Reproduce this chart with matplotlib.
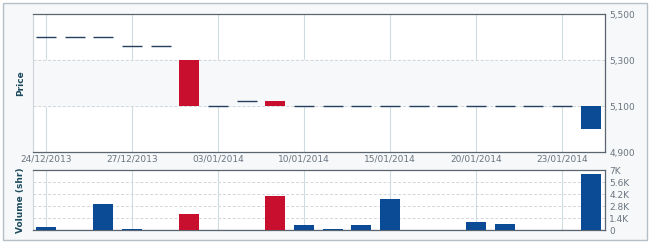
import numpy as np
import matplotlib
matplotlib.use('Agg')
import matplotlib.pyplot as plt
from matplotlib.patches import Rectangle

# candles (open == close -> flat dash)
opens = [5400, 5400, 5400, 5360, 5360, 5300, 5100, 5120, 5120, 5100,
         5100, 5100, 5100, 5100, 5100, 5100, 5100, 5100, 5100, 5000]
closes = [5400, 5400, 5400, 5360, 5360, 5100, 5100, 5120, 5100, 5100,
          5100, 5100, 5100, 5100, 5100, 5100, 5100, 5100, 5100, 5100]
volumes = [400, 0, 3000, 150, 0, 1900, 0, 0, 4000, 600,
           150, 600, 3600, 0, 0, 900, 700, 0, 0, 6500]
tick_idx = [0, 3, 6, 9, 12, 15, 18]
tick_labels = ['24/12/2013', '27/12/2013', '03/01/2014', '10/01/2014',
               '15/01/2014', '20/01/2014', '23/01/2014']
price_ticks = [4900, 5100, 5300, 5500]
price_labels = ['4,900', '5,100', '5,300', '5,500']
vol_ticks = [0, 1400, 2800, 4200, 5600, 7000]
vol_labels = ['0', '1.4K', '2.8K', '4.2K', '5.6K', '7K']

blue = '#0b4a94'
red = '#c8102e'
dash = '#23405e'
grid_c = '#cfdbe2'
txt = '#6a7480'

W, H = 650, 247
fig = plt.figure(figsize=(6.5, 2.47), dpi=100)
fig.patch.set_facecolor('white')
fig.patches.append(Rectangle((3/W, 1 - 240/H), 644/W, 237/H, transform=fig.transFigure,
                             facecolor='#f6f8f9', edgecolor='#b7bfc6', lw=1.0, zorder=-10))

def fr(l, t, r, b):
    return [l/W, 1 - b/H, (r - l)/W, (b - t)/H]

ax = fig.add_axes(fr(33, 14, 605, 152))
axv = fig.add_axes(fr(33, 170, 605, 230))

x = np.arange(len(opens))
bw = 0.7

for a in (ax, axv):
    a.set_facecolor('white')
    a.set_xlim(-0.45, len(opens) - 0.5)
    for s in a.spines.values():
        s.set_color('#5a6570')
        s.set_linewidth(0.9)
    a.spines['left'].set_color('#d0d6db')
    a.set_xticks(tick_idx)
    for t in tick_idx:
        a.axvline(t, color=grid_c, lw=0.8, zorder=0)
    a.yaxis.tick_right()
    a.tick_params(axis='both', length=0, labelsize=6.5, colors=txt, pad=3)

# price panel
ax.set_ylim(4900, 5500)
ax.axhspan(5100, 5300, color='#f6f8f9', zorder=0)
for yv in (5100, 5300):
    ax.axhline(yv, color='#d2d6da', lw=0.7, ls=(0, (3, 2)), zorder=0)
for i in x:
    o, c = opens[i], closes[i]
    if o == c:
        ax.hlines(o, i - bw/2, i + bw/2, color=dash, lw=1.0, zorder=3)
    else:
        col = red if c < o else blue
        ax.bar(i, abs(c - o), bottom=min(o, c), width=bw, color=col, zorder=3)
ax.set_yticks(price_ticks)
ax.set_yticklabels(price_labels)
ax.set_xticklabels(tick_labels)
ax.tick_params(axis='x', pad=2)
ax.set_ylabel('Price', fontsize=6.5, fontweight='bold', color='#1d4a5e', labelpad=6)
ax.yaxis.set_label_position('left')

# volume panel
axv.set_ylim(0, 7000)
for yv in vol_ticks[1:-1]:
    axv.axhline(yv, color='#d2d6da', lw=0.7, ls=(0, (3, 2)), zorder=0)
vcols = [red if closes[i] < opens[i] else blue for i in x]
axv.bar(x, volumes, width=bw, color=vcols, zorder=3)
axv.hlines(0, -0.45, len(opens) - 0.5, color='#5a6570', lw=0.8, zorder=2)
axv.set_yticks(vol_ticks)
axv.set_yticklabels(vol_labels)
axv.set_xticklabels([])
axv.set_ylabel('Volume (shr)', fontsize=6.5, fontweight='bold', color='#1d4a5e', labelpad=6)
axv.yaxis.set_label_position('left')

fig.savefig('out.png', dpi=100, facecolor=fig.get_facecolor())
